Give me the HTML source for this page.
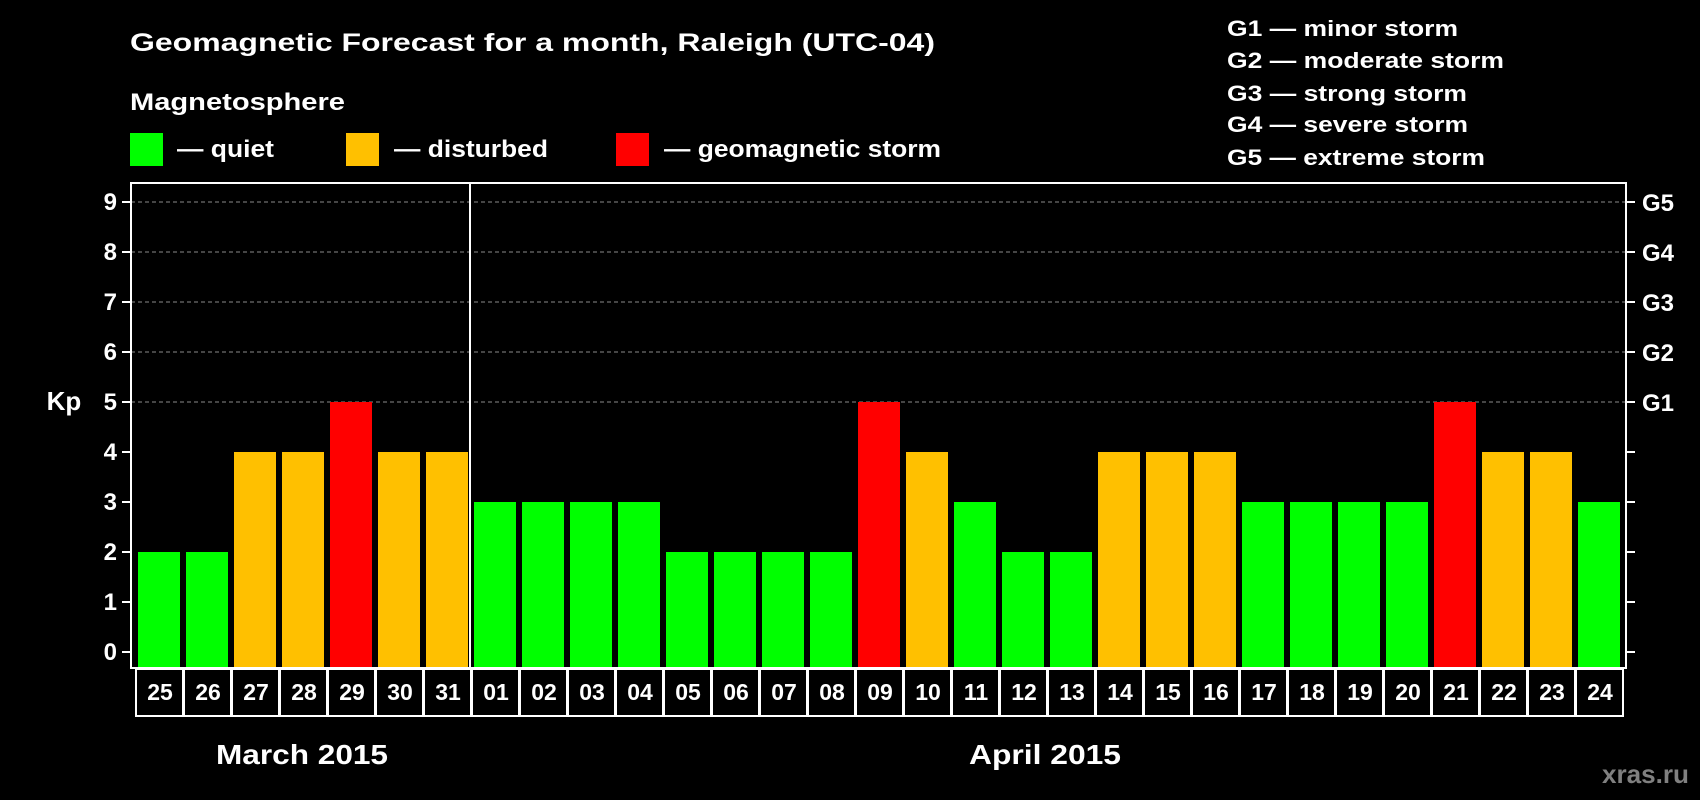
<!DOCTYPE html>
<html><head><meta charset="utf-8"><style>
html,body{margin:0;padding:0;background:#000;width:1700px;height:800px;overflow:hidden}
svg{display:block;font-family:"Liberation Sans",sans-serif;font-weight:bold}
</style></head><body>
<svg id="chart" width="1700" height="800">
<rect x="0" y="0" width="1700" height="800" fill="#000"/>
<text x="130" y="51" fill="#fff" font-size="25" textLength="805" lengthAdjust="spacingAndGlyphs">Geomagnetic Forecast for a month, Raleigh (UTC-04)</text>
<text x="130" y="110" fill="#fff" font-size="24" textLength="215" lengthAdjust="spacingAndGlyphs">Magnetosphere</text>
<g><rect x="130" y="133" width="33" height="33" fill="#00ff00"/><text x="177" y="157" fill="#fff" font-size="24" textLength="97" lengthAdjust="spacingAndGlyphs">— quiet</text></g>
<g><rect x="346" y="133" width="33" height="33" fill="#ffc000"/><text x="394" y="157" fill="#fff" font-size="24" textLength="154" lengthAdjust="spacingAndGlyphs">— disturbed</text></g>
<g><rect x="616" y="133" width="33" height="33" fill="#ff0000"/><text x="664" y="157" fill="#fff" font-size="24" textLength="277" lengthAdjust="spacingAndGlyphs">— geomagnetic storm</text></g>
<g fill="#fff" font-size="22">
<text x="1227" y="36" textLength="231" lengthAdjust="spacingAndGlyphs">G1 — minor storm</text>
<text x="1227" y="68" textLength="277" lengthAdjust="spacingAndGlyphs">G2 — moderate storm</text>
<text x="1227" y="101" textLength="240" lengthAdjust="spacingAndGlyphs">G3 — strong storm</text>
<text x="1227" y="132" textLength="241" lengthAdjust="spacingAndGlyphs">G4 — severe storm</text>
<text x="1227" y="165" textLength="258" lengthAdjust="spacingAndGlyphs">G5 — extreme storm</text>
</g>
<text x="64" y="410" fill="#fff" font-size="26" text-anchor="middle">Kp</text>
<text x="302" y="764" fill="#fff" font-size="28" text-anchor="middle" textLength="172" lengthAdjust="spacingAndGlyphs">March 2015</text>
<text x="1045" y="764" fill="#fff" font-size="28" text-anchor="middle" textLength="152" lengthAdjust="spacingAndGlyphs">April 2015</text>
<text x="1602" y="783" fill="#808080" font-size="26" textLength="87" lengthAdjust="spacingAndGlyphs">xras.ru</text>
<g id="plot"></g>
</svg>
<script>
const days = ["25","26","27","28","29","30","31","01","02","03","04","05","06","07","08","09","10","11","12","13","14","15","16","17","18","19","20","21","22","23","24"];
const kpValues = [2,2,4,4,5,4,4,3,3,3,3,2,2,2,2,5,4,3,2,2,4,4,4,3,3,3,3,5,4,4,3];
const yTicks = [0,1,2,3,4,5,6,7,8,9];
const gLabels = ["","","","","","G1","G2","G3","G4","G5"];
const monthBreakIndex = 7;

const NS = "http://www.w3.org/2000/svg";
const plot = document.getElementById("plot");
const plotLeft = 131, plotRight = 1626, plotTop = 183, plotBottom = 668;
const y0 = 652, unit = 50;
const cell0 = 135, pitch = 48, barW = 42;
function yScale(v){ return y0 - v*unit; }
function xCell(i){ return cell0 + i*pitch; }
function mk(tag, attrs){ const e=document.createElementNS(NS,tag); for(const k in attrs) e.setAttribute(k,attrs[k]); plot.appendChild(e); return e; }

yTicks.forEach((t,i)=>{
  const y = yScale(t);
  if (t >= 5) {
    const g = mk("line",{x1:plotLeft,x2:plotRight,y1:y,y2:y,stroke:"#8a8a8a","stroke-width":1,"stroke-dasharray":"4,3"});
    
    
  }
  const tl = mk("line",{x1:plotLeft-9,x2:plotLeft,y1:y,y2:y,stroke:"#fff","stroke-width":2});
  
  
  const tr = mk("line",{x1:plotRight,x2:plotRight+9,y1:y,y2:y,stroke:"#fff","stroke-width":2});
  
  
  const lab = mk("text",{x:117,y:y+8,fill:"#fff","font-size":24,"text-anchor":"end"});
  lab.textContent = t;
  
  
  if (gLabels[i]) {
    const gl = mk("text",{x:1642,y:y+9,fill:"#fff","font-size":24});
    gl.textContent = gLabels[i];
    
    
  }
});

kpValues.forEach((v,i)=>{
  const color = v >= 5 ? "#ff0000" : (v >= 4 ? "#ffc000" : "#00ff00");
  const b = mk("rect",{x:xCell(i)+3,y:yScale(v),width:barW,height:plotBottom-yScale(v)-1,fill:color});
  
  
  const c = mk("rect",{x:xCell(i)+1,y:plotBottom+1,width:pitch-1,height:47,fill:"none",stroke:"#fff","stroke-width":2});
  
  
  const t = mk("text",{x:xCell(i)+pitch/2+1,y:plotBottom+32,fill:"#fff","font-size":23,"text-anchor":"middle"});
  t.textContent = days[i];
  
  
});

const frame = mk("rect",{x:plotLeft,y:plotTop,width:plotRight-plotLeft,height:plotBottom-plotTop,fill:"none",stroke:"#fff","stroke-width":2});


const sep = mk("line",{x1:xCell(monthBreakIndex)-1,x2:xCell(monthBreakIndex)-1,y1:plotTop,y2:plotBottom,stroke:"#fff","stroke-width":2});


</script>
</body></html>
